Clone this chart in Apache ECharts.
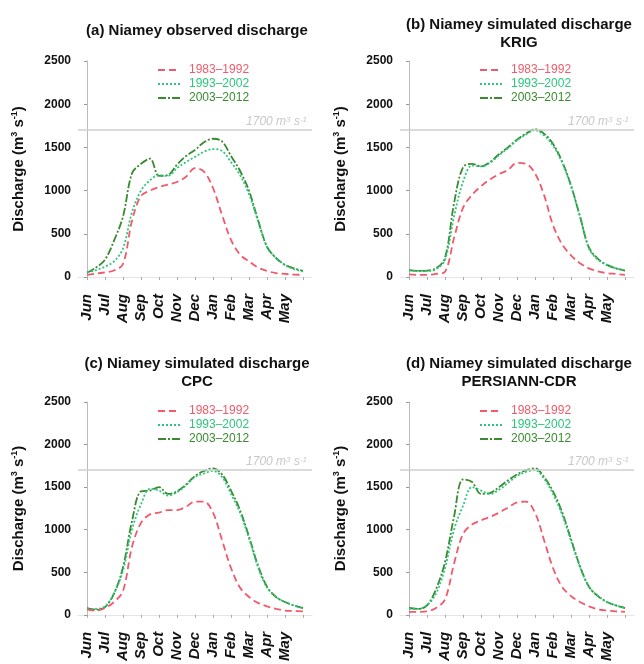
<!DOCTYPE html>
<html>
<head>
<meta charset="utf-8">
<title>Niamey discharge</title>
<script src="https://cdn.jsdelivr.net/npm/echarts@6/dist/echarts.min.js"></script>
<style>
  html, body { margin: 0; padding: 0; background: #fff; }
</style>
</head>
<body>
<div id="chart" style="width: 644px; height: 664px"></div>
<script>
// month ticks, Jun -> May (hydrological year)
const months = ['Jun', 'Jul', 'Aug', 'Sep', 'Oct', 'Nov', 'Dec', 'Jan', 'Feb', 'Mar', 'Apr', 'May']
// position of each sample, in months since 1 June
const monthPos = [0, 0.5, 1, 1.5, 2, 2.5, 3, 3.5, 4, 4.5, 5, 5.5, 6, 6.5, 7, 7.5, 8, 8.5, 9, 9.5, 10, 10.5, 11, 11.5, 12]
const periods = ['1983–1992', '1993–2002', '2003–2012']

// (a) observed
const obs8392 = [25, 40, 55, 75, 150, 650, 940, 1000, 1040, 1070, 1100, 1160, 1260, 1220, 1030, 720, 430, 260, 180, 110, 70, 45, 35, 28, 25]
const obs9302 = [55, 80, 120, 180, 330, 750, 1000, 1120, 1180, 1170, 1260, 1330, 1390, 1450, 1480, 1460, 1330, 1180, 960, 650, 350, 220, 140, 90, 65]
const obs0312 = [50, 110, 200, 420, 700, 1200, 1310, 1370, 1170, 1180, 1300, 1400, 1470, 1560, 1600, 1570, 1400, 1230, 1000, 660, 350, 220, 140, 100, 70]
// (b) KRIG
const krig8392 = [30, 25, 25, 35, 60, 450, 800, 950, 1050, 1130, 1190, 1240, 1320, 1310, 1200, 950, 600, 380, 250, 160, 100, 65, 45, 35, 25]
const krig9302 = [75, 70, 70, 90, 200, 700, 1100, 1290, 1280, 1320, 1410, 1490, 1580, 1650, 1700, 1640, 1520, 1330, 1050, 700, 330, 200, 140, 100, 75]
const krig0312 = [80, 70, 75, 100, 220, 850, 1270, 1310, 1280, 1330, 1420, 1500, 1590, 1660, 1710, 1660, 1540, 1340, 1060, 700, 340, 210, 140, 100, 75]
// (c) CPC
const cpc8392 = [60, 50, 80, 150, 280, 800, 1080, 1180, 1200, 1230, 1230, 1270, 1330, 1330, 1200, 880, 550, 320, 210, 140, 100, 70, 50, 45, 40]
const cpc9302 = [70, 70, 100, 250, 520, 1000, 1300, 1480, 1460, 1400, 1440, 1520, 1620, 1660, 1690, 1620, 1420, 1200, 900, 560, 320, 210, 150, 110, 80]
const cpc0312 = [80, 60, 90, 250, 560, 1100, 1450, 1460, 1500, 1420, 1450, 1530, 1630, 1690, 1720, 1650, 1460, 1230, 920, 580, 330, 210, 150, 110, 80]
// (d) PERSIANN-CDR
const per8392 = [35, 35, 40, 80, 180, 600, 950, 1060, 1110, 1150, 1200, 1260, 1320, 1330, 1200, 880, 550, 330, 220, 150, 100, 65, 50, 40, 35]
const per9302 = [70, 70, 110, 250, 550, 1000, 1280, 1500, 1460, 1420, 1470, 1550, 1630, 1680, 1700, 1600, 1420, 1180, 870, 560, 330, 220, 150, 110, 80]
const per0312 = [80, 70, 110, 300, 620, 1150, 1590, 1560, 1420, 1430, 1500, 1580, 1650, 1700, 1720, 1620, 1450, 1210, 890, 570, 330, 220, 150, 110, 80]

const threshold = 1700

const panels = [
  { title: '(a) Niamey observed discharge', left: 78, top: 61, height: 216, titleX: 192, titleY: 17, data: [obs8392, obs9302, obs0312] },
  { title: '(b) Niamey simulated discharge\nKRIG', left: 400, top: 61, height: 216, titleX: 514, titleY: 11, data: [krig8392, krig9302, krig0312] },
  { title: '(c) Niamey simulated discharge\nCPC', left: 78, top: 402, height: 217, titleX: 192, titleY: 350, data: [cpc8392, cpc9302, cpc0312] },
  { title: '(d) Niamey simulated discharge\nPERSIANN-CDR', left: 400, top: 402, height: 217, titleX: 514, titleY: 350, data: [per8392, per9302, per0312] },
]

const colors = ['#f05a6a', '#2cc67c', '#3a8a30']
const dashes = [[7, 4], [2, 2], [8, 2, 2, 2]]
const font = 'Liberation Sans, Arial, sans-serif'

const chart = echarts.init(document.getElementById('chart'))

const option = {
  animation: false,
  title: [],
  grid: [],
  legend: [],
  xAxis: [],
  yAxis: [],
  series: [],
}

panels.forEach(function (p, k) {
  option.title.push({
    text: p.title,
    left: p.titleX,
    top: p.titleY,
    textAlign: 'center',
    textStyle: { fontFamily: font, fontSize: 15, fontWeight: 'bold', color: '#111', lineHeight: 18 },
  })
  option.grid.push({ left: p.left, top: p.top, width: 234, height: p.height })
  option.legend.push({
    orient: 'vertical',
    left: p.left + 74,
    top: p.top - 2,
    itemWidth: 22,
    itemHeight: 12,
    itemGap: 2,
    selectedMode: false,
    itemStyle: { opacity: 0 },
    data: periods.map(function (name, i) {
      return { name: name, textStyle: { color: colors[i] } }
    }),
    textStyle: { fontFamily: font, fontSize: 12, lineHeight: 12, padding: [0, 0, 0, 4] },
  })
  option.xAxis.push({
    type: 'value',
    gridIndex: k,
    min: -0.5,
    max: 12.5,
    offset: 12,
    splitLine: { show: false },
    axisLine: { show: true, lineStyle: { color: '#e6e6e6' } },
    axisTick: {
      show: true,
      length: 3,
      lineStyle: { color: '#aaa' },
      customValues: [0, 1, 2, 3, 4, 5, 6, 7, 8, 9, 10, 11, 12],
    },
    axisLabel: {
      rotate: 90,
      margin: 5,
      fontFamily: font,
      fontSize: 15,
      fontWeight: 'bold',
      fontStyle: 'italic',
      color: '#111',
      customValues: [0, 1, 2, 3, 4, 5, 6, 7, 8, 9, 10, 11],
      formatter: function (v) {
        return months[Math.round(v)] || ''
      },
    },
  })
  option.yAxis.push({
    type: 'value',
    gridIndex: k,
    min: 0,
    max: 2500,
    interval: 500,
    offset: 4,
    splitLine: { show: false },
    axisLine: { show: true, lineStyle: { color: '#bbb' } },
    axisTick: { show: true, length: 3, lineStyle: { color: '#999' } },
    axisLabel: {
      margin: 3,
      fontFamily: font,
      fontSize: 12,
      fontWeight: 'bold',
      color: '#111',
      formatter: function (v) {
        return String(v)
      },
    },
    name: 'Discharge (m{sup|3} s{sup|-1})',
    nameLocation: 'middle',
    nameRotate: 90,
    nameGap: 46,
    nameTextStyle: {
      fontFamily: font,
      fontSize: 15,
      fontWeight: 'bold',
      color: '#111',
      lineHeight: 18,
      rich: {
        sup: { fontFamily: font, fontSize: 9, fontWeight: 'bold', color: '#111', verticalAlign: 'top', lineHeight: 18 },
      },
    },
  })
  p.data.forEach(function (vals, i) {
    const s = {
      name: periods[i],
      type: 'line',
      xAxisIndex: k,
      yAxisIndex: k,
      symbol: 'none',
      smooth: 0.35,
      color: colors[i],
      lineStyle: { width: 1.8, type: dashes[i], color: colors[i] },
      data: monthPos.map(function (m, j) {
        return [m, vals[j]]
      }),
      z: 3 - i,
    }
    if (i === 0) {
      s.markLine = {
        silent: true,
        symbol: 'none',
        lineStyle: { color: '#cfcfcf', type: 'solid', width: 1.5 },
        label: {
          position: 'insideEndTop',
          distance: [5, 2],
          formatter: '1700 m{s|3} s{s|-1}',
          fontFamily: font,
          fontSize: 12,
          fontStyle: 'italic',
          color: '#c8c8c8',
          rich: {
            s: { fontFamily: font, fontSize: 8, fontStyle: 'italic', color: '#c8c8c8', verticalAlign: 'top' },
          },
        },
        data: [{ yAxis: threshold }],
      }
    }
    option.series.push(s)
  })
})

chart.setOption(option)
</script>
</body>
</html>
